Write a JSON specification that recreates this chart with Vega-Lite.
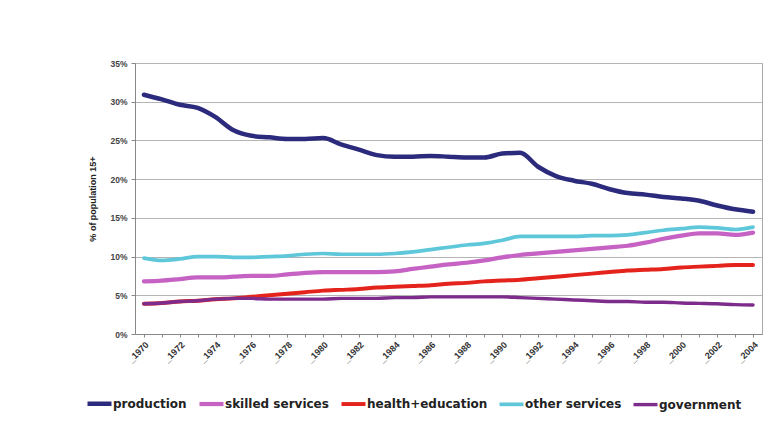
{
  "$schema": "https://vega.github.io/schema/vega-lite/v6.json",
  "autosize": {"type": "none"},
  "padding": {"left": 135, "top": 63, "right": 17, "bottom": 107},
  "width": 627,
  "height": 271,
  "background": "white",
  "config": {
    "font": "Liberation Sans",
    "view": {"stroke": "#a8a8a8", "strokeWidth": 1}
  },
  "data": {
    "values": [
      {"year": "_1970", "production": 30.9, "skilled services": 6.8, "health+education": 3.9, "other services": 9.8, "government": 3.9},
      {"year": "_1971", "production": 30.3, "skilled services": 6.9, "health+education": 4.0, "other services": 9.5, "government": 4.0},
      {"year": "_1972", "production": 29.6, "skilled services": 7.1, "health+education": 4.2, "other services": 9.7, "government": 4.2},
      {"year": "_1973", "production": 29.2, "skilled services": 7.3, "health+education": 4.3, "other services": 10.0, "government": 4.3},
      {"year": "_1974", "production": 28.0, "skilled services": 7.3, "health+education": 4.5, "other services": 10.0, "government": 4.5},
      {"year": "_1975", "production": 26.3, "skilled services": 7.4, "health+education": 4.6, "other services": 9.9, "government": 4.6},
      {"year": "_1976", "production": 25.6, "skilled services": 7.5, "health+education": 4.8, "other services": 9.9, "government": 4.6},
      {"year": "_1977", "production": 25.4, "skilled services": 7.5, "health+education": 5.0, "other services": 10.0, "government": 4.5},
      {"year": "_1978", "production": 25.2, "skilled services": 7.7, "health+education": 5.2, "other services": 10.1, "government": 4.5},
      {"year": "_1979", "production": 25.2, "skilled services": 7.9, "health+education": 5.4, "other services": 10.3, "government": 4.5},
      {"year": "_1980", "production": 25.3, "skilled services": 8.0, "health+education": 5.6, "other services": 10.4, "government": 4.5},
      {"year": "_1981", "production": 24.5, "skilled services": 8.0, "health+education": 5.7, "other services": 10.3, "government": 4.6},
      {"year": "_1982", "production": 23.8, "skilled services": 8.0, "health+education": 5.8, "other services": 10.3, "government": 4.6},
      {"year": "_1983", "production": 23.1, "skilled services": 8.0, "health+education": 6.0, "other services": 10.3, "government": 4.6},
      {"year": "_1984", "production": 22.9, "skilled services": 8.1, "health+education": 6.1, "other services": 10.4, "government": 4.7},
      {"year": "_1985", "production": 22.9, "skilled services": 8.4, "health+education": 6.2, "other services": 10.6, "government": 4.7},
      {"year": "_1986", "production": 23.0, "skilled services": 8.7, "health+education": 6.3, "other services": 10.9, "government": 4.8},
      {"year": "_1987", "production": 22.9, "skilled services": 9.0, "health+education": 6.5, "other services": 11.2, "government": 4.8},
      {"year": "_1988", "production": 22.8, "skilled services": 9.2, "health+education": 6.6, "other services": 11.5, "government": 4.8},
      {"year": "_1989", "production": 22.8, "skilled services": 9.5, "health+education": 6.8, "other services": 11.7, "government": 4.8},
      {"year": "_1990", "production": 23.3, "skilled services": 9.9, "health+education": 6.9, "other services": 12.1, "government": 4.8},
      {"year": "_1991", "production": 23.4, "skilled services": 10.2, "health+education": 7.0, "other services": 12.6, "government": 4.7},
      {"year": "_1992", "production": 21.6, "skilled services": 10.4, "health+education": 7.2, "other services": 12.6, "government": 4.6},
      {"year": "_1993", "production": 20.4, "skilled services": 10.6, "health+education": 7.4, "other services": 12.6, "government": 4.5},
      {"year": "_1994", "production": 19.8, "skilled services": 10.8, "health+education": 7.6, "other services": 12.6, "government": 4.4},
      {"year": "_1995", "production": 19.4, "skilled services": 11.0, "health+education": 7.8, "other services": 12.7, "government": 4.3},
      {"year": "_1996", "production": 18.7, "skilled services": 11.2, "health+education": 8.0, "other services": 12.7, "government": 4.2},
      {"year": "_1997", "production": 18.2, "skilled services": 11.4, "health+education": 8.2, "other services": 12.8, "government": 4.2},
      {"year": "_1998", "production": 18.0, "skilled services": 11.8, "health+education": 8.3, "other services": 13.1, "government": 4.1},
      {"year": "_1999", "production": 17.7, "skilled services": 12.3, "health+education": 8.4, "other services": 13.4, "government": 4.1},
      {"year": "_2000", "production": 17.5, "skilled services": 12.7, "health+education": 8.6, "other services": 13.6, "government": 4.0},
      {"year": "_2001", "production": 17.2, "skilled services": 13.0, "health+education": 8.7, "other services": 13.8, "government": 3.95},
      {"year": "_2002", "production": 16.6, "skilled services": 13.0, "health+education": 8.8, "other services": 13.7, "government": 3.9},
      {"year": "_2003", "production": 16.1, "skilled services": 12.8, "health+education": 8.9, "other services": 13.5, "government": 3.8},
      {"year": "_2004", "production": 15.8, "skilled services": 13.1, "health+education": 8.9, "other services": 13.8, "government": 3.75}
    ]
  },
  "transform": [
    {"fold": ["production", "skilled services", "health+education", "other services", "government"], "as": ["sector", "share"]}
  ],
  "mark": {"type": "line", "interpolate": "monotone", "strokeCap": "round"},
  "encoding": {
    "x": {
      "field": "year",
      "type": "ordinal",
      "scale": {"type": "point", "padding": 0.5},
      "axis": {
        "title": null,
        "labelAngle": -45,
        "labelFontSize": 9,
        "labelFontWeight": "bold",
        "labelColor": "#333333",
        "labelOverlap": false,
        "labelPadding": 3,
        "labelExpr": "parseInt(substring(datum.value, 1)) % 2 == 0 ? datum.value : ''",
        "domainColor": "#888888",
        "tickColor": "#888888",
        "tickSize": 3,
        "grid": false
      }
    },
    "y": {
      "field": "share",
      "type": "quantitative",
      "scale": {"domain": [0, 35], "nice": false},
      "axis": {
        "title": "% of population 15+",
        "titleFontSize": 9,
        "titleFontWeight": "bold",
        "titleColor": "#222222",
        "titlePadding": 12,
        "values": [0, 5, 10, 15, 20, 25, 30, 35],
        "labelExpr": "datum.value + '%'",
        "labelFontSize": 8.5,
        "labelFontWeight": "bold",
        "labelColor": "#444444",
        "labelPadding": 4,
        "tickSize": 4,
        "tickColor": "#888888",
        "domainColor": "#888888",
        "gridColor": "#b4b4b4",
        "gridWidth": 1.2
      }
    },
    "color": {
      "field": "sector",
      "type": "nominal",
      "sort": ["production", "skilled services", "health+education", "other services", "government"],
      "scale": {
        "domain": ["production", "skilled services", "health+education", "other services", "government"],
        "range": ["#2c2a7c", "#c562c4", "#e4241c", "#5ec7da", "#7d2c8c"]
      },
      "legend": {
        "title": null,
        "orient": "none",
        "direction": "horizontal",
        "columns": 5,
        "legendX": -50,
        "legendY": 326,
        "padding": 0,
        "symbolType": "stroke",
        "symbolSize": 576,
        "symbolStrokeWidth": 4,
        "labelFont": "DejaVu Sans",
        "labelFontSize": 12,
        "labelFontWeight": "bold",
        "labelColor": "#222222",
        "labelOffset": -1,
        "columnPadding": 4
      }
    },
    "strokeWidth": {
      "field": "sector",
      "type": "nominal",
      "scale": {
        "domain": ["production", "skilled services", "health+education", "other services", "government"],
        "range": [4.5, 3.4, 3.4, 3.4, 3.4]
      },
      "legend": null
    }
  }
}
